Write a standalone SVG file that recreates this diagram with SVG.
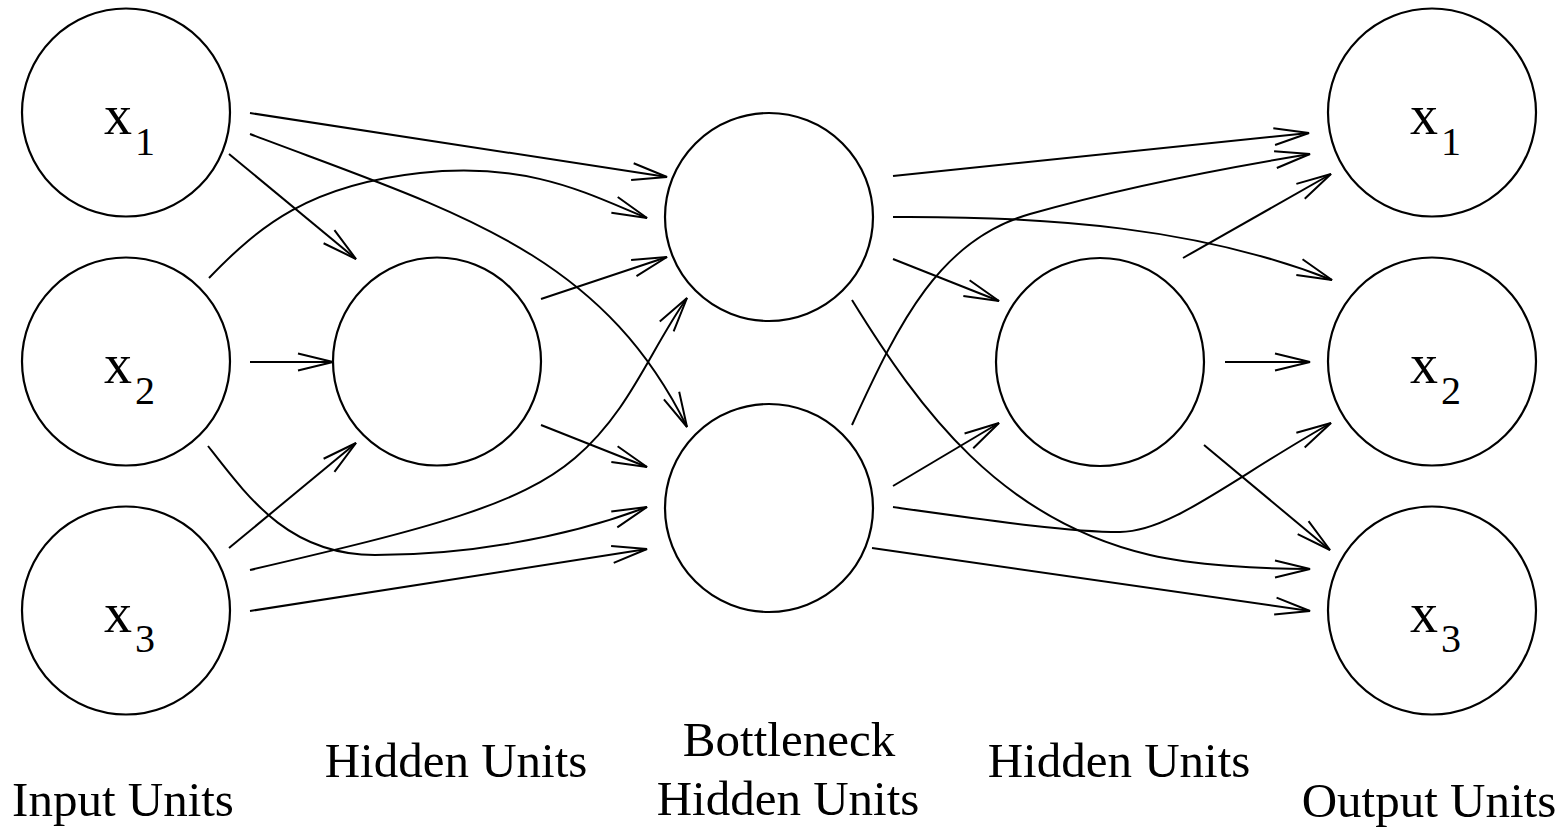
<svg xmlns="http://www.w3.org/2000/svg" width="1566" height="827" viewBox="0 0 1566 827">
<style>
.node{fill:none;stroke:#000;stroke-width:2.2}
.edge{fill:none;stroke:#000;stroke-width:2;marker-end:url(#arr)}
.lbl{font-family:"Liberation Serif","Times New Roman",serif;fill:#000}
.var{font-size:56px}
.sub{font-size:40px}
.cap{font-family:"Liberation Serif","Times New Roman",serif;font-size:49px;fill:#000;text-anchor:middle}
</style>
<defs>
<marker id="arr" markerUnits="userSpaceOnUse" orient="auto" refX="0" refY="0" markerWidth="80" markerHeight="40" overflow="visible">
<path d="M-35,-8.5 L0,0 L-35,8.5" fill="none" stroke="#000" stroke-width="2"/>
</marker>
</defs>
<rect width="1566" height="827" fill="#fff"/>
<g id="connectors">
<path class="edge" d="M250,113 L667,177"/>
<path class="edge" d="M250,134 C450,210 600,250 687,427"/>
<path class="edge" d="M229,154 L356,259"/>
<path class="edge" d="M250,362 L333,362"/>
<path class="edge" d="M209,278 C260,225 310,185 420,173 S590,195 647,218"/>
<path class="edge" d="M208,446 C250,500 290,555 375,555 C460,555 560,540 647,507"/>
<path class="edge" d="M229,548 L356,443"/>
<path class="edge" d="M250,570 C430,528 520,505 575,458 S650,350 687,298"/>
<path class="edge" d="M250,611 L647,549"/>
<path class="edge" d="M541,299 L667,257"/>
<path class="edge" d="M541,425 L647,467"/>
<path class="edge" d="M893,176 L1309,133"/>
<path class="edge" d="M893,217 C1050,216 1200,228 1332,280"/>
<path class="edge" d="M893,259 L999,301"/>
<path class="edge" d="M852,300 C920,410 1000,520 1150,555 C1193,565 1260,569 1310,569"/>
<path class="edge" d="M852,425 C900,320 940,240 1030,214 C1100,194 1200,172 1310,154"/>
<path class="edge" d="M893,486 L999,423"/>
<path class="edge" d="M893,507 C1000,522 1070,532 1120,532 C1170,532 1230,480 1331,423"/>
<path class="edge" d="M872,548 L1310,611"/>
<path class="edge" d="M1183,258 L1331,174"/>
<path class="edge" d="M1225,362 L1310,362"/>
<path class="edge" d="M1204,445 L1330,550"/>
</g>
<g id="in1"><circle class="node" cx="126" cy="112.5" r="104"/><text class="lbl"><tspan class="var" x="104" y="134">x</tspan><tspan class="sub" x="135" y="155">1</tspan></text></g>
<g id="in2"><circle class="node" cx="126" cy="361.5" r="104"/><text class="lbl"><tspan class="var" x="104" y="383">x</tspan><tspan class="sub" x="135" y="404">2</tspan></text></g>
<g id="in3"><circle class="node" cx="126" cy="610.5" r="104"/><text class="lbl"><tspan class="var" x="104" y="632">x</tspan><tspan class="sub" x="135" y="652">3</tspan></text></g>
<g id="hid1"><circle class="node" cx="437" cy="361.5" r="104"/></g>
<g id="bot1"><circle class="node" cx="769" cy="217" r="104"/></g>
<g id="bot2"><circle class="node" cx="769" cy="508" r="104"/></g>
<g id="hid2"><circle class="node" cx="1100" cy="362" r="104"/></g>
<g id="out1"><circle class="node" cx="1432" cy="112.5" r="104"/><text class="lbl"><tspan class="var" x="1410" y="134">x</tspan><tspan class="sub" x="1441" y="155">1</tspan></text></g>
<g id="out2"><circle class="node" cx="1432" cy="361.5" r="104"/><text class="lbl"><tspan class="var" x="1410" y="383">x</tspan><tspan class="sub" x="1441" y="404">2</tspan></text></g>
<g id="out3"><circle class="node" cx="1432" cy="610.5" r="104"/><text class="lbl"><tspan class="var" x="1410" y="632">x</tspan><tspan class="sub" x="1441" y="652">3</tspan></text></g>
<g id="captions">
<text class="cap" x="123" y="816">Input Units</text>
<text class="cap" x="456" y="777">Hidden Units</text>
<text class="cap" x="789" y="756">Bottleneck</text>
<text class="cap" x="788" y="815">Hidden Units</text>
<text class="cap" x="1119" y="777">Hidden Units</text>
<text class="cap" x="1429" y="817">Output Units</text>
</g>
</svg>
